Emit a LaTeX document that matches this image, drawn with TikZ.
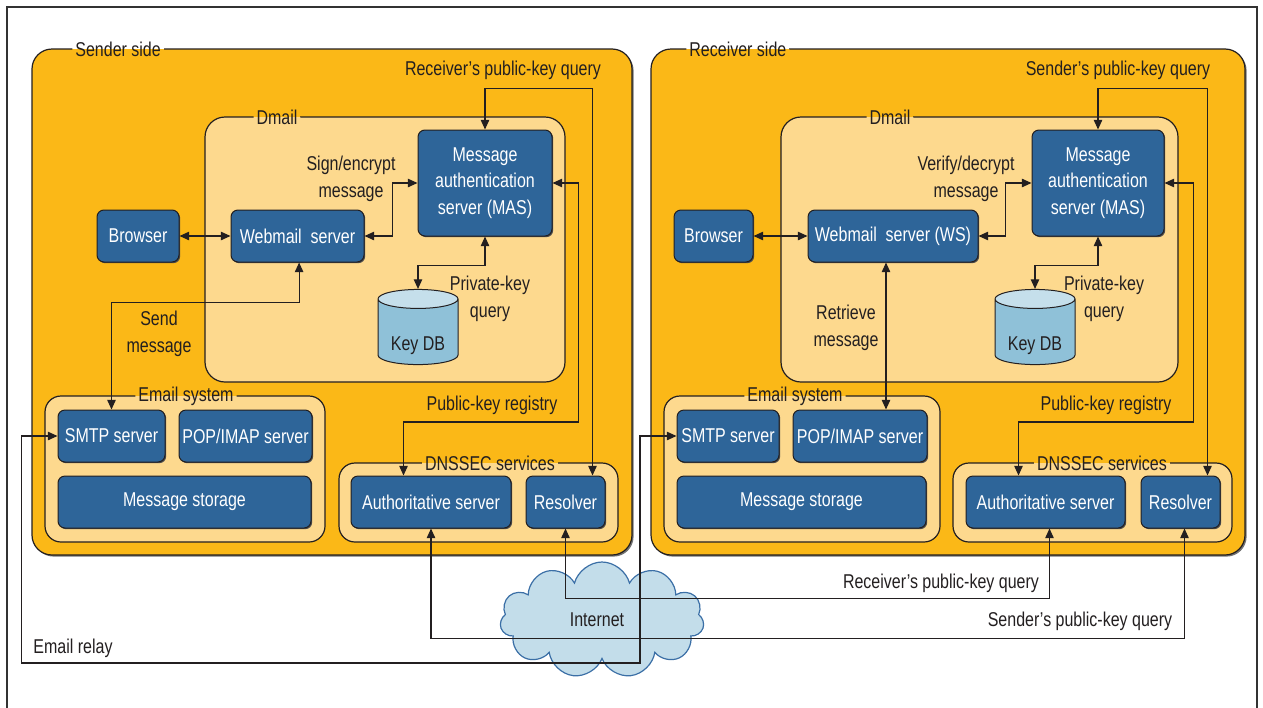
\documentclass[tikz,border=0pt]{standalone}
\usepackage{fontspec}
\setmainfont[FakeStretch=0.8]{Liberation Sans}
\usepackage{tikz}
\usetikzlibrary{positioning}
\usetikzlibrary {arrows.meta}
\usetikzlibrary{fit,shapes.geometric,shapes.symbols,shadows}

\definecolor{sideorange}{HTML}{FBB817}
\definecolor{innerbeige}{HTML}{FDD98E}
\definecolor{srvblue}{HTML}{2E6599}
\definecolor{dbbody}{HTML}{8FC1D8}
\definecolor{dbtop}{HTML}{C5DFEB}
\definecolor{cloudfill}{HTML}{C3DDEA}
\definecolor{cloudline}{HTML}{3B6FA6}
\definecolor{inkc}{HTML}{231F20}

\tikzset{
    every node/.style={font=\fontsize{10}{13.2}\selectfont, text=inkc},
    side/.style={draw=inkc, line width=0.6pt, fill=sideorange, rounded corners=10pt, inner sep=0pt,
        drop shadow={shadow xshift=0.8pt, shadow yshift=-0.8pt, fill=black!55, opacity=1}},
    inner/.style={draw=inkc, line width=0.6pt, fill=innerbeige, rounded corners=#1, inner sep=0pt},
    inner/.default=8pt,
    grouplabel/.style 2 args={inner sep=1.5pt,
        path picture={
            \fill[#1] ([xshift=-1pt,yshift=1pt]path picture bounding box.north west) rectangle (path picture bounding box.east);
            \fill[#2] ([xshift=-1pt]path picture bounding box.west) rectangle ([xshift=1pt,yshift=-1pt]path picture bounding box.south east);}},
    srv/.style={draw=inkc, line width=0.5pt, fill=srvblue, text=white, rounded corners=3.5pt, inner sep=0pt, align=center,
        minimum height=26pt,
        drop shadow={shadow xshift=0.6pt, shadow yshift=-0.6pt, fill=black!70, opacity=1}},
    keydb/.style={cylinder, shape border rotate=90, draw=inkc, line width=0.5pt, aspect=0.35,
        minimum width=40pt, minimum height=36pt, inner sep=0pt, text height=21pt,
        cylinder uses custom fill, cylinder body fill=dbbody, cylinder end fill=dbtop},
    link/.style={draw=inkc, line width=0.6pt,
        {Triangle[length=4.8pt,width=4.2pt]}-{Triangle[length=4.8pt,width=4.2pt]}},
}

\begin{document}
\begin{tikzpicture}[x=0.5pt, y=-0.5pt]
    \useasboundingbox (0,0) rectangle (1263,707);
    \draw[line width=1.1pt, draw=black!80] (7,715) -- (7,7) -- (1257,7) -- (1257,715);

    %% sender side
    \node[side, fit={(32,49) (632,555)}] (sendside) {};
    \node[grouplabel={white}{sideorange}, anchor=west] (sendlab) at (72,49) {Sender side};
    \node[inner=10pt, fit={(205,117) (565,382)}] (dmailL) {};
    \node[grouplabel={sideorange}{innerbeige}] (dmailLlab) at (277,117) {Dmail};
    \node[inner, fit={(45,396) (325,542)}] (emailL) {};
    \node[grouplabel={sideorange}{innerbeige}] (emailLlab) at (186,396) {Email system};
    \node[inner, fit={(339,463) (618,542)}] (dnsL) {};
    \node[grouplabel={sideorange}{innerbeige}] (dnsLlab) at (490,463) {DNSSEC services};

    \node[srv, minimum width=67pt, minimum height=53pt] (masL) at (485,183) {Message\\authentication\\server (MAS)};
    \node[srv, minimum width=66.5pt] (wsL) at (297.5,236) {Webmail~~server};
    \node[srv, minimum width=41pt, left=25.5pt of wsL] (browserL) {Browser};
    \node[keydb] (kdbL) at (418,332) {Key DB};
    \node[srv, minimum width=53.5pt] (smtpL) at (111.5,436) {SMTP server};
    \node[srv, minimum width=66.5pt, right=6.5pt of smtpL] (popL) {POP/IMAP server};
    \node[srv, minimum width=126.5pt] (storL) at (184.5,502) {Message storage};
    \node[srv, minimum width=80pt] (authL) at (431,502) {Authoritative server};
    \node[srv, minimum width=39.5pt, right=7pt of authL] (resL) {Resolver};

    \node (rqTop) at (503,70) {Receiver’s public-key query};
    \node[align=center] (signL) at (351,179) {Sign/encrypt\\message};
    \node[align=center] (privL) at (490,299) {Private-key\\query};
    \node[align=center] (sendL) at (159,334) {Send\\message};
    \node (regL) at (492,405) {Public-key registry};

    %% receiver side
    \node[side, fit={(651,49) (1245,555)}] (recvside) {};
    \node[grouplabel={white}{sideorange}, anchor=west] (recvlab) at (686,49) {Receiver side};
    \node[inner=10pt, fit={(781,117) (1178,382)}] (dmailR) {};
    \node[grouplabel={sideorange}{innerbeige}] (dmailRlab) at (890,117) {Dmail};
    \node[inner, fit={(664,396) (940,542)}] (emailR) {};
    \node[grouplabel={sideorange}{innerbeige}] (emailRlab) at (795,396) {Email system};
    \node[inner, fit={(953,463) (1232,542)}] (dnsR) {};
    \node[grouplabel={sideorange}{innerbeige}] (dnsRlab) at (1102,463) {DNSSEC services};

    \node[srv, minimum width=66pt, minimum height=53pt] (masR) at (1098,183) {Message\\authentication\\server (MAS)};
    \node[srv, minimum width=85pt] (wsR) at (893,236) {Webmail~~server (WS)};
    \node[srv, minimum width=39.5pt, left=27pt of wsR] (browserR) {Browser};
    \node[keydb] (kdbR) at (1035,332) {Key DB};
    \node[srv, minimum width=51pt] (smtpR) at (728,436) {SMTP server};
    \node[srv, minimum width=67pt, right=6.5pt of smtpR] (popR) {POP/IMAP server};
    \node[srv, minimum width=124.5pt] (storR) at (801.5,502) {Message storage};
    \node[srv, minimum width=79.5pt] (authR) at (1045.5,502) {Authoritative server};
    \node[srv, minimum width=39.5pt, right=7.5pt of authR] (resR) {Resolver};

    \node (sqTop) at (1118,70) {Sender’s public-key query};
    \node[align=center] (verR) at (966,179) {Verify/decrypt\\message};
    \node[align=center] (privR) at (1104,299) {Private-key\\query};
    \node[align=center] (retR) at (846,328) {Retrieve\\message};
    \node (regR) at (1106,405) {Public-key registry};

    %% internet
    \node[cloud, cloud puffs=11, draw=cloudline, fill=cloudfill, line width=0.6pt,
        minimum width=102pt, minimum height=58pt, inner sep=0pt] (inet) at (602,620) {};
    \node (inetlab) at (597,620) {Internet};
    \node (rqBot) at (941,583) {Receiver’s public-key query};
    \node (sqBot) at (1080,621) {Sender’s public-key query};
    \node (relaylab) at (73,648) {Email relay};
    \coordinate (relayturn) at (640,663);

    % links, sender side
    \draw[link] (browserL) -- (wsL);
    \draw[link] (wsL.east) -- ++(28,0) |- (masL.west);
    \draw[link] (masL.south) -- ++(0,29) -| (kdbL.north);
    \draw[link] ([xshift=0.8pt]wsL.south) -- ++(0,40) -| (smtpL.north);
    \draw[link] (masL.north) -- ++(0,-41) -| ([xshift=-6.5pt]resL.north east);
    \draw[link] (masL.east) -- ++(26,0) -- ++(0,239) -| ([xshift=26.5pt]authL.north west);

    % links, receiver side
    \draw[link] (browserR) -- (wsR);
    \draw[link] (wsR.east) -- ++(27,0) |- (masR.west);
    \draw[link] (masR.south) -- ++(0,29) -| (kdbR.north);
    \draw[link] ([xshift=-3.5pt]wsR.south) -- ([xshift=-3.5pt]wsR.south |- popR.north);
    \draw[link] (masR.north) -- ++(0,-41) -| ([xshift=-6.5pt]resR.north east);
    \draw[link] (masR.east) -- ++(29,0) -- ++(0,239) -| ([xshift=26.5pt]authR.north west);

    % links across the internet
    \draw[link] (smtpL.west) -- ++(-36,0) |- (relayturn) |- (smtpR.west);
    \draw[link] (resL.south) -- ++(0,70) -| ([xshift=2pt]authR.south);
    \draw[link] (authL.south) -- ++(0,110) -| ([xshift=2pt]resR.south);
\end{tikzpicture}
\end{document}
